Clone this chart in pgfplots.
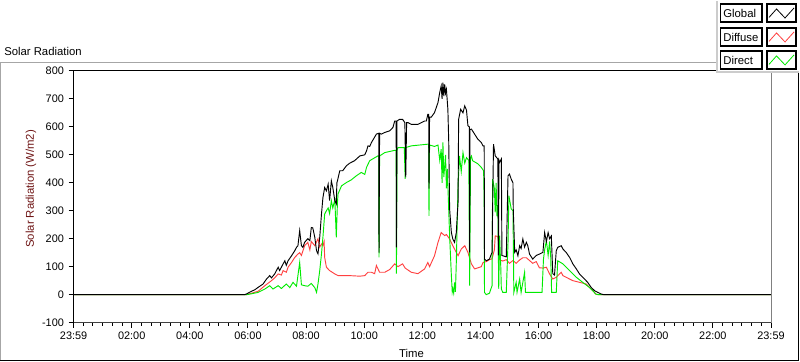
\documentclass[border=0pt]{standalone}
\usepackage{fontspec}
\setmainfont{Liberation Sans}
\usepackage{pgfplots}
\usepackage{pgfplotstable}
\pgfplotsset{compat=1.18}
\definecolor{cglobal}{RGB}{0,0,0}
\definecolor{cdiff}{RGB}{255,64,64}
\definecolor{cdirect}{RGB}{0,235,0}
\definecolor{labred}{RGB}{110,20,20}

\pgfplotstableread{
h v
0 0
5.89 0
5.96 3
6.12 12
6.23 17
6.35 26
6.52 38
6.64 56
6.75 68
6.81 60
6.92 74
7.04 98
7.09 86
7.21 110
7.27 121
7.32 105
7.38 121
7.50 139
7.61 157
7.67 169
7.72 175
7.78 229
7.84 175
7.89 169
7.95 187
8.06 200
8.13 193
8.18 240
8.23 239
8.30 205
8.36 157
8.41 146
8.47 205
8.53 288
8.58 347
8.64 383
8.70 371
8.76 395
8.81 336
8.87 407
8.92 383
8.99 336
9.04 324
9.06 400
9.08 407
9.16 443
9.26 443
9.39 461
9.50 470
9.67 479
9.85 496
10.02 500
10.08 514
10.13 532
10.19 530
10.25 544
10.42 574
10.50 577
10.51 150
10.53 577
10.59 574
10.71 580
10.88 586
10.99 598
11.05 621
11.10 621
11.11 169
11.13 621
11.22 627
11.32 627
11.40 615
11.43 419
11.46 615
11.51 615
11.62 609
11.85 609
12.08 621
12.14 621
12.19 645
12.22 645
12.23 379
12.25 635
12.31 635
12.42 651
12.54 687
12.60 723
12.65 746
12.68 700
12.71 758
12.74 710
12.77 752
12.80 720
12.83 734
12.88 663
12.91 544
12.94 306
13.00 222
13.05 199
13.11 187
13.17 222
13.23 330
13.25 627
13.32 663
13.40 650
13.46 675
13.52 660
13.57 604
13.62 600
13.63 151
13.64 590
13.69 592
13.80 574
13.91 556
14.03 544
14.09 532
14.13 532
14.14 127
14.20 121
14.31 127
14.40 151
14.45 538
14.51 496
14.60 485
14.62 140
14.64 480
14.66 473
14.72 485
14.74 140
14.77 139
14.89 135
14.95 425
15.00 431
15.06 413
15.12 400
15.13 307
15.18 151
15.23 160
15.29 139
15.35 175
15.40 165
15.46 199
15.52 170
15.58 187
15.63 175
15.69 145
15.80 127
15.92 140
16.03 145
16.15 151
16.21 222
16.27 190
16.33 222
16.38 200
16.44 210
16.49 75
16.55 70
16.61 157
16.66 169
16.78 175
16.84 163
16.95 151
17.07 133
17.18 110
17.30 92
17.41 74
17.58 56
17.69 44
17.81 26
17.93 14
18.04 8
18.16 2
18.25 0
24 0
}\globaldata

\pgfplotstableread{
h v
0 0
5.96 0
6.12 5
6.35 12
6.58 32
6.81 50
6.92 60
7.04 74
7.15 70
7.21 86
7.32 80
7.38 98
7.50 115
7.61 133
7.72 145
7.78 150
7.84 140
7.95 175
8.06 187
8.13 160
8.18 190
8.30 175
8.41 200
8.47 170
8.53 181
8.58 175
8.62 190
8.64 133
8.70 98
8.81 86
8.99 74
9.10 68
9.50 68
9.85 66
10.02 68
10.13 80
10.25 80
10.36 75
10.42 104
10.53 80
10.71 80
10.88 90
11.05 110
11.16 100
11.32 110
11.41 95
11.62 80
11.85 75
12.08 92
12.19 115
12.25 100
12.42 139
12.54 187
12.65 222
12.77 211
12.83 215
12.94 199
13.05 175
13.17 151
13.23 139
13.34 163
13.46 175
13.57 151
13.69 110
13.80 92
14.03 100
14.09 115
14.20 118
14.31 125
14.40 128
14.48 160
14.51 210
14.60 208
14.66 125
14.77 120
14.89 125
15.00 112
15.12 122
15.23 112
15.35 124
15.46 132
15.58 132
15.69 122
15.80 112
15.92 118
16.03 96
16.15 95
16.27 98
16.38 74
16.49 56
16.61 62
16.72 74
16.78 80
16.84 68
16.95 62
17.18 50
17.41 44
17.64 38
17.75 26
17.87 14
17.97 2
18.05 0
24 0
}\diffdata

\pgfplotstableread{
h v
0 0
5.96 0
6.12 3
6.35 8
6.58 20
6.75 32
6.86 20
7.04 32
7.15 22
7.32 38
7.44 25
7.55 44
7.67 30
7.78 115
7.84 35
7.95 32
8.06 30
8.18 40
8.30 25
8.36 8
8.41 38
8.47 86
8.53 145
8.58 205
8.64 288
8.70 300
8.76 310
8.81 290
8.87 336
8.92 310
8.99 340
9.04 205
9.08 330
9.10 360
9.22 389
9.39 401
9.55 410
9.73 425
9.90 437
10.02 430
10.08 455
10.19 479
10.47 496
10.50 496
10.51 133
10.53 496
10.71 508
11.05 516
11.10 516
11.11 75
11.13 516
11.16 526
11.38 526
11.41 414
11.43 526
11.62 532
12.19 538
12.22 538
12.23 282
12.25 535
12.42 530
12.54 535
12.60 480
12.65 520
12.68 400
12.71 544
12.74 420
12.80 500
12.83 380
12.86 450
12.88 389
12.94 211
13.00 68
13.03 10
13.05 21
13.08 5
13.11 44
13.14 10
13.17 115
13.23 389
13.28 496
13.34 440
13.40 508
13.46 470
13.52 490
13.60 480
13.63 32
13.66 490
13.69 496
13.73 479
13.91 468
14.03 455
14.11 443
14.13 330
14.14 8
14.20 0
14.31 5
14.40 32
14.42 413
14.48 380
14.51 294
14.54 400
14.57 280
14.60 320
14.63 21
14.66 211
14.70 100
14.72 20
14.77 8
14.89 8
14.95 187
14.98 354
15.06 306
15.12 300
15.15 8
15.23 44
15.26 8
15.35 56
15.40 8
15.52 80
15.55 8
15.86 8
16.12 8
16.17 127
16.21 160
16.27 193
16.33 140
16.38 190
16.42 133
16.45 8
16.61 8
16.66 121
16.84 110
17.07 86
17.30 62
17.52 44
17.75 26
17.87 14
17.97 2
18.05 0
24 0
}\directdata

\begin{document}
\begin{tikzpicture}
\begin{scope}[x=0.75pt,y=0.75pt]
\path[use as bounding box] (0,0) rectangle (800,361);
\draw[gray!70, line width=0.75pt] (0.5,1) -- (0.5,299.5) -- (799.5,299.5);
\draw[black, line width=0.75pt] (0.5,1) -- (799.5,1) -- (799.5,299.5);
\node[anchor=base west, inner sep=0, font=\fontsize{8.5}{10}\selectfont] at (4,306) {Solar Radiation};
\end{scope}
\begin{axis}[
  at={(55.275pt,29.25pt)}, anchor=south west,
  scale only axis, width=523.7pt, height=189pt,
  xmin=0, xmax=24, ymin=-100, ymax=800,
  clip=false,
  axis line style={draw=none},
  tick align=outside, xtick pos=lower, ytick pos=left,
  major tick length=3.75pt, minor tick length=2.25pt,
  every tick/.style={black, line width=0.75pt},
  xtick={0,2,...,24},
  xticklabels={23:59,02:00,04:00,06:00,08:00,10:00,12:00,14:00,16:00,18:00,20:00,22:00,23:59},
  minor x tick num=5,
  ytick={-100,0,100,200,300,400,500,600,700,800},
  yticklabels={-100,0,100,200,300,400,500,600,700,800},
  ticklabel style={font=\fontsize{8.2}{10}\selectfont},
]
\addplot[cdiff, line width=0.7pt] table[x=h,y=v]{\diffdata};
\addplot[cdirect, line width=0.7pt] table[x=h,y=v]{\directdata};
\addplot[cglobal, line width=0.7pt] table[x=h,y=v]{\globaldata};
\draw[gray!50!black, line width=0.75pt] (rel axis cs:0,0) -- (rel axis cs:1,0);
\draw[gray, line width=0.75pt] (rel axis cs:1,0) -- (rel axis cs:1,1);
\draw[black, line width=0.75pt] (rel axis cs:0,0) -- (rel axis cs:0,1) -- (rel axis cs:1,1);
\end{axis}
\begin{scope}[x=0.75pt,y=0.75pt]
\node[rotate=90, anchor=center, inner sep=0, font=\fontsize{8.5}{10}\selectfont, text=labred] at (31,173) {Solar Radiation (W/m2)};
\node[anchor=base, inner sep=0, font=\fontsize{8.5}{10}\selectfont] at (412,4.5) {Time};
% legend
\fill[white] (717,289) rectangle (800,361);
\draw[gray!40, line width=1.5pt] (717.5,361) -- (717.5,289.5) -- (800,289.5);
\foreach \T/\lab/\col in {3/Global/cglobal, 27/Diffuse/cdiff, 50/Direct/cdirect}{
  \draw[black, fill=white, line width=0.9pt] (721,361-\T) rectangle (763,343-\T);
  \node[anchor=base west, inner sep=0, font=\fontsize{8.5}{10}\selectfont] at (724,347-\T) {\lab};
  \draw[black, fill=white, line width=0.9pt] (768,361-\T) rectangle (797,343-\T);
  \draw[\col, line width=0.6pt] (770,347.6-\T) -- (777.5,356-\T) -- (786,347-\T) -- (795,357-\T);
}
\end{scope}
\end{tikzpicture}
\end{document}
